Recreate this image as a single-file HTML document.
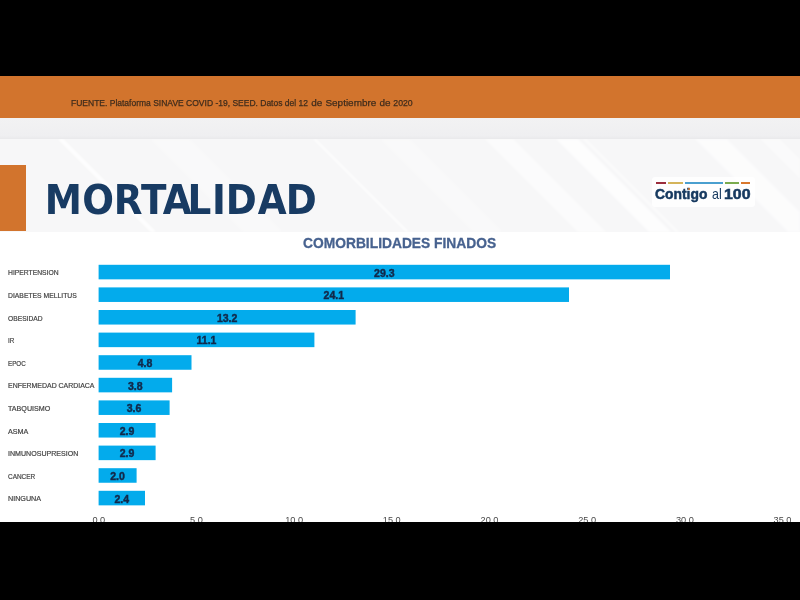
<!DOCTYPE html>
<html><head><meta charset="utf-8">
<style>
html,body{margin:0;padding:0;}
body{width:800px;height:600px;position:relative;overflow:hidden;background:#000;font-family:"Liberation Sans",sans-serif;}
.abs{position:absolute;}
#orange{left:0;top:76px;width:800px;height:42px;background:#d2742d;}
#fuente{left:71px;top:96.5px;-webkit-text-stroke:0.25px #3f2c1c;font-size:8.7px;line-height:12px;color:#3f2c1c;white-space:nowrap;filter:blur(0.3px);}
#fuente span{font-size:9.95px;margin-left:0.8px;word-spacing:0.5px;margin-right:0.3px;}#fuente b{font-weight:normal;font-size:8.5px;}
#band{left:0;top:118px;width:800px;height:20.5px;background:linear-gradient(#f2f2f3 0,#efeff1 85%,#e9e9eb 100%);}
#head{left:0;top:138.5px;width:800px;height:93px;background:#f7f7f8;overflow:hidden;}
#oblock{left:0;top:165px;width:26px;height:66px;background:#d2742d;}
#title{font-family:"DejaVu Sans Condensed","DejaVu Sans","Liberation Sans",sans-serif;font-size:41.5px;font-weight:bold;fill:#183b63;filter:blur(0.4px);overflow:visible;}
#white{left:0;top:232px;width:800px;height:290px;background:#fff;}
#ctitle{left:303px;top:233px;transform:scaleX(0.92);-webkit-text-stroke:0.3px #47628f;font-size:15px;line-height:20px;font-weight:bold;color:#47628f;white-space:nowrap;transform-origin:0 0;filter:blur(0.4px);}
.lab{position:absolute;left:7.5px;font-size:7px;line-height:10px;letter-spacing:0;color:#444;-webkit-text-stroke:0.2px #444;transform-origin:0 0;white-space:nowrap;filter:blur(0.35px);}
.val{position:absolute;font-size:10.5px;line-height:14px;font-weight:bold;color:#12294a;-webkit-text-stroke:0.45px #12294a;width:40px;text-align:center;filter:blur(0.4px);}
.ax{position:absolute;top:515.3px;font-size:9.2px;line-height:10px;color:#484848;width:30px;text-align:center;filter:blur(0.3px);}
#bottom{left:0;top:522px;width:800px;height:78px;background:#000;}
#logo{left:652px;top:177px;width:103px;height:30px;background:rgba(255,255,255,0.85);border-radius:3px;}
.lt{top:185.3px;font-size:14.2px;line-height:18px;color:#173a60;-webkit-text-stroke:0.5px #173a60;white-space:nowrap;font-weight:bold;filter:blur(0.35px);transform-origin:0 0;}
.seg{position:absolute;top:182px;height:1.6px;}
</style></head><body>
<div class="abs" id="orange"></div>
<div class="abs" id="fuente"><b>FUENTE. Plataforma SINAVE COVID -19, SEED. Datos del 12 </b><span>de Septiembre de</span> 2020</div>
<div class="abs" id="band"></div>
<div class="abs" id="head"><svg width="800" height="93" style="position:absolute;left:0;top:0;filter:blur(1.2px)"><polygon points="58,0 63,0 156,93 151,93" fill="#fff" opacity="0.9"/><polygon points="313,0 316,0 409,93 406,93" fill="#fff" opacity="0.8"/><polygon points="485,0 513,0 606,93 578,93" fill="#fff" opacity="0.55"/><polygon points="556,0 578,0 671,93 649,93" fill="#fff" opacity="0.7"/><polygon points="583,0 586,0 679,93 676,93" fill="#fff" opacity="0.6"/><polygon points="695,0 727,0 820,93 788,93" fill="#fff" opacity="0.6"/><polygon points="150,0 190,0 283,93 243,93" fill="#fff" opacity="0.25"/><polygon points="380,0 410,0 503,93 473,93" fill="#fff" opacity="0.25"/><polygon points="760,0 780,0 873,93 853,93" fill="#fff" opacity="0.4"/></svg></div>
<div class="abs" id="oblock"></div>
<svg class="abs" id="title" width="400" height="70" style="left:0;top:165px"><text transform="scale(1.0,1)" x="44.71 82.33 113.66 140.91 162.79 187.50 212.01 225.78 257.69 285.68" y="48.9">MORTALIDAD</text></svg>
<div class="abs" id="logo"></div>
<div class="seg" style="left:656px;width:10px;background:#9b2d3c"></div>
<div class="seg" style="left:667.5px;width:15.5px;background:#d4b45a"></div>
<div class="seg" style="left:685px;width:38px;background:#4a9fcf"></div>
<div class="seg" style="left:725px;width:14px;background:#7aab4e"></div>
<div class="seg" style="left:741px;width:9px;background:#d9782e"></div>
<div class="abs lt" style="left:655.3px;transform:scaleX(0.977)">Contigo</div><div class="abs lt" style="left:711.6px;font-weight:normal;-webkit-text-stroke:0;transform:scaleX(0.88)">al</div><div class="abs" style="left:688.2px;top:188.3px;width:2.2px;height:2.2px;border-radius:50%;background:#e07a2a"></div><div class="abs lt" style="left:723.6px;transform:scaleX(1.12)">100</div>
<div class="abs" id="white"></div>
<div class="abs" id="ctitle">COMORBILIDADES FINADOS</div>
<div id="chart"><svg width="800" height="600" style="position:absolute;left:0;top:0" fill="#03abec"><rect x="98.6" y="264.80" width="571.4" height="14.55"/><rect x="98.6" y="287.40" width="470.4" height="14.55"/><rect x="98.6" y="310.00" width="257.0" height="14.55"/><rect x="98.6" y="332.60" width="215.8" height="14.55"/><rect x="98.6" y="355.20" width="92.9" height="14.55"/><rect x="98.6" y="377.80" width="73.5" height="14.55"/><rect x="98.6" y="400.40" width="71.0" height="14.55"/><rect x="98.6" y="423.00" width="57.0" height="14.55"/><rect x="98.6" y="445.60" width="57.0" height="14.55"/><rect x="98.6" y="468.20" width="38.0" height="14.55"/><rect x="98.6" y="490.80" width="46.4" height="14.55"/></svg>
<div class="lab" style="top:268.3px;transform:scaleX(0.965)">HIPERTENSION</div>
<div class="val" style="top:265.6px;left:364.3px">29.3</div>
<div class="lab" style="top:290.9px;transform:scaleX(0.972)">DIABETES MELLITUS</div>
<div class="val" style="top:288.2px;left:313.8px">24.1</div>
<div class="lab" style="top:313.5px;transform:scaleX(0.957)">OBESIDAD</div>
<div class="val" style="top:310.8px;left:207.1px">13.2</div>
<div class="lab" style="top:336.1px;transform:scaleX(0.9)">IR</div>
<div class="val" style="top:333.4px;left:186.5px">11.1</div>
<div class="lab" style="top:358.7px;transform:scaleX(0.89)">EPOC</div>
<div class="val" style="top:356.0px;left:125.1px">4.8</div>
<div class="lab" style="top:381.3px;transform:scaleX(0.993)">ENFERMEDAD CARDIACA</div>
<div class="val" style="top:378.6px;left:115.3px">3.8</div>
<div class="lab" style="top:403.9px;transform:scaleX(1.019)">TABQUISMO</div>
<div class="val" style="top:401.2px;left:114.1px">3.6</div>
<div class="lab" style="top:426.5px;transform:scaleX(1.025)">ASMA</div>
<div class="val" style="top:423.8px;left:107.1px">2.9</div>
<div class="lab" style="top:449.1px;transform:scaleX(1.01)">INMUNOSUPRESION</div>
<div class="val" style="top:446.4px;left:107.1px">2.9</div>
<div class="lab" style="top:471.7px;transform:scaleX(0.92)">CANCER</div>
<div class="val" style="top:469.0px;left:97.6px">2.0</div>
<div class="lab" style="top:494.3px;transform:scaleX(1.025)">NINGUNA</div>
<div class="val" style="top:491.6px;left:101.8px">2.4</div>
<div class="ax" style="left:83.8px">0.0</div>
<div class="ax" style="left:181.5px">5.0</div>
<div class="ax" style="left:279.1px">10.0</div>
<div class="ax" style="left:376.8px">15.0</div>
<div class="ax" style="left:474.5px">20.0</div>
<div class="ax" style="left:572.2px">25.0</div>
<div class="ax" style="left:669.9px">30.0</div>
<div class="ax" style="left:767.5px">35.0</div></div><!--endchart-->
<div class="abs" id="bottom"></div>
</body></html>
